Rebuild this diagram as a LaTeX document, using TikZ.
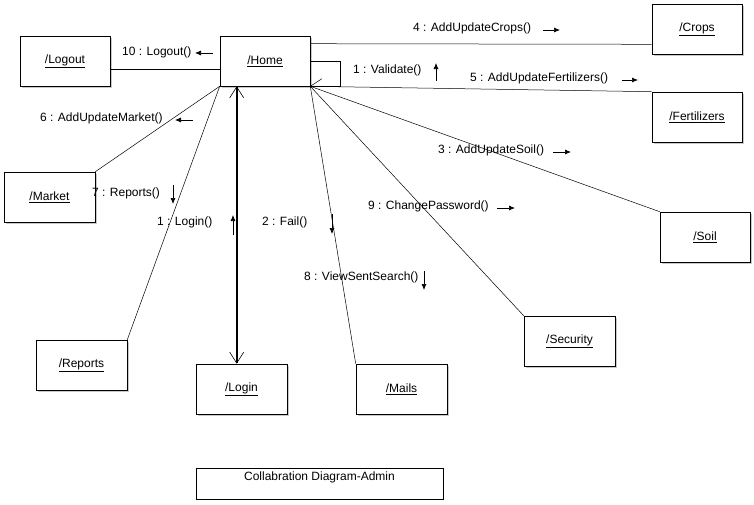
\documentclass[tikz,border=0pt]{standalone}
\usepackage{fontspec}
\setmainfont{Liberation Sans}
\usetikzlibrary{arrows.meta,shadows}
\begin{document}
\begin{tikzpicture}[x=1pt,y=-1pt,
  every node/.style={font=\fontsize{12}{14}\selectfont},
  obj/.style={draw, line width=0.6pt, fill=white, minimum width=90pt, minimum height=50pt,
    inner sep=0pt, drop shadow={shadow xshift=1.6pt, shadow yshift=-1.6pt, opacity=0.35, fill=black!60}},
  link/.style={line width=0.5pt},
  lbl/.style={anchor=west, inner sep=0pt},
  msg/.style={line width=0.7pt, -{Latex[length=6pt,width=5pt]}}]
\useasboundingbox[fill=white] (0,0) rectangle (754,504);

% objects
\node[obj] (Logout) at (65,61) {\underline{/Logout}};
\node[obj] (Home) at (265,61) {\underline{/Home}};
\node[obj] (Crops) at (697,29) {\underline{/Crops}};
\node[obj] (Fertilizers) at (697,117) {\underline{/Fertilizers}};
\node[obj, minimum width=91pt] (Market) at (49.5,197) {\underline{/Market}};
\node[obj] (Soil) at (705,237) {\underline{/Soil}};
\node[obj, minimum width=91pt] (Reports) at (81.5,365) {\underline{/Reports}};
\node[obj, minimum width=91pt] (Login) at (241.5,389) {\underline{/Login}};
\node[obj, minimum width=91pt] (Mails) at (401.5,389) {\underline{/Mails}};
\node[obj, minimum width=91pt] (Security) at (569.5,341) {\underline{/Security}};
\node[draw, line width=0.6pt, minimum width=247pt, minimum height=31pt, inner sep=0pt]
  (caption) at (319.5,483.5) {};
\node[anchor=north, inner sep=0pt] (captiontext) at ([yshift=-4pt]caption.north) {Collabration Diagram-Admin};

% links
\draw[link] ([yshift=-8pt]Logout.east) -- ([yshift=-8pt]Home.west);
\draw[link] ([yshift=-8pt]Home.north east) -- ([yshift=10pt]Crops.south west);
\draw[link] (Home.east) -- ++(30,0) |- (Home.south east);
\draw[link] (Home.south east) -- ++(11.5,-7.5);
\draw[link] (Home.south east) -- (Fertilizers.north west);
\draw[link] (Home.south east) -- (Soil.north west);
\draw[link] (Home.south east) -- (Security.north west);
\draw[link] (Home.south east) -- (Mails.north west);
\draw[link] (Home.south west) -- (Market.north east);
\draw[link] (Home.south west) -- (Reports.north east);
\draw[line width=2pt, {Straight Barb[length=11pt,width=14pt,line width=0.6pt]}-{Straight Barb[length=11pt,width=14pt,line width=0.6pt]}]
  ([xshift=17pt]Home.south west) -- ([xshift=17pt]Home.south west |- Login.north);

% messages
\node[lbl] (m10) at (122,52) {10 : Logout()};
\draw[msg] (213,53) -- (195,53);
\node[lbl] (m4) at (413,28) {4 : AddUpdateCrops()};
\draw[msg] (543,30) -- (560,30);
\node[lbl] (m1v) at (353,70) {1 : Validate()};
\draw[msg] (436,81) -- (436,63);
\node[lbl] (m5) at (470,78) {5 : AddUpdateFertilizers()};
\draw[msg] (622,80) -- (638,80);
\node[lbl] (m6) at (40,118) {6 : AddUpdateMarket()};
\draw[msg] (193,120) -- (175,120);
\node[lbl] (m3) at (438,150) {3 : AddUpdateSoil()};
\draw[msg] (553,152) -- (571,152);
\node[lbl] (m7) at (92,193) {7 : Reports()};
\draw[msg] (173,185) -- (173,204);
\node[lbl] (m9) at (368,206) {9 : ChangePassword()};
\draw[msg] (497,208) -- (515,208);
\node[lbl] (m1l) at (157,222) {1 : Login()};
\draw[msg] (233,235) -- (233,215);
\node[lbl] (m2) at (262,222) {2 : Fail()};
\draw[msg] (332,214) -- (332,234);
\node[lbl] (m8) at (304,277) {8 : ViewSentSearch()};
\draw[msg] (424,271) -- (424,290);
\end{tikzpicture}
\end{document}
